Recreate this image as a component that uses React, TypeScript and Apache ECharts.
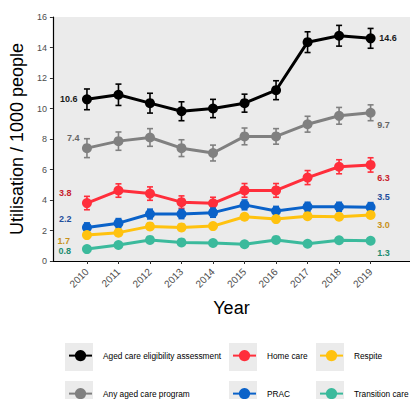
import React, { useEffect, useRef } from "react";
import * as echarts from "echarts";

const years = [2010, 2011, 2012, 2013, 2014, 2015, 2016, 2017, 2018, 2019];
const yTicks = [0, 2, 4, 6, 8, 10, 12, 14, 16];

const seriesNames = [
  "Aged care eligibility assessment",
  "Any aged care program",
  "Home care",
  "PRAC",
  "Respite",
  "Transition care",
];

const assessment = [10.6, 10.9, 10.35, 9.82, 10.0, 10.35, 11.2, 14.35, 14.77, 14.6];
const anyProgram = [7.4, 7.86, 8.1, 7.4, 7.08, 8.17, 8.17, 8.97, 9.52, 9.72];
const homeCare = [3.8, 4.62, 4.42, 3.86, 3.78, 4.63, 4.63, 5.47, 6.18, 6.3];
const prac = [2.2, 2.48, 3.08, 3.08, 3.17, 3.68, 3.28, 3.55, 3.55, 3.53];
const respite = [1.7, 1.86, 2.27, 2.2, 2.29, 2.9, 2.75, 2.94, 2.9, 3.02];
const transition = [0.78, 1.05, 1.38, 1.22, 1.18, 1.1, 1.38, 1.13, 1.36, 1.33];

const assessmentErr = [0.68, 0.7, 0.65, 0.62, 0.6, 0.59, 0.62, 0.68, 0.68, 0.65];
const anyProgramErr = [0.62, 0.6, 0.58, 0.55, 0.52, 0.55, 0.51, 0.52, 0.55, 0.52];
const homeCareErr = [0.44, 0.44, 0.44, 0.41, 0.4, 0.45, 0.45, 0.46, 0.46, 0.47];
const pracErr = [0.3, 0.3, 0.32, 0.3, 0.3, 0.32, 0.3, 0.3, 0.3, 0.3];
const respiteErr = [0.2, 0.2, 0.2, 0.2, 0.2, 0.2, 0.2, 0.2, 0.2, 0.2];
const transitionErr = [0.12, 0.12, 0.12, 0.12, 0.12, 0.12, 0.12, 0.12, 0.12, 0.12];

const values = [assessment, anyProgram, homeCare, prac, respite, transition];
const errors = [assessmentErr, anyProgramErr, homeCareErr, pracErr, respiteErr, transitionErr];

// styles
const lineColors = ["#000000", "#808080", "#FF2E3B", "#0A62C9", "#FFC20F", "#3BBA9C"];
const labelColors = ["#1A1A1A", "#666666", "#C8202C", "#1F4E9C", "#C8921A", "#1E8C70"];
// [dx (right edge), dy] for first label, [dx (left edge), dy] for last label
const firstLabelPos = [[-9.5, 0], [-7.5, -10.5], [-15.5, -10], [-15.5, -8], [-17, 6], [-16, 2]];
const lastLabelPos = [[8.7, 0], [6.7, 12], [6.7, 13], [6.7, -10], [6.7, 10], [6.7, 12]];
const legendCells = [
  [65, 343], [65, 381], [229, 343], [229, 381], [316, 343], [316, 381],
];

export default function App() {
  const ref = useRef<HTMLDivElement>(null);
  useEffect(() => {
    if (!ref.current) return;
    const chart = echarts.init(ref.current, undefined, { renderer: "svg" });
    const SYM = 10;
    const series: any[] = [];
    values.forEach((vals, si) => {
      const errs = errors[si];
      series.push({
        type: "custom",
        name: seriesNames[si] + " err",
        data: years.map((y, i) => [y, vals[i] - errs[i], vals[i] + errs[i]]),
        z: 2 + si * 2,
        silent: true,
        renderItem: (params: any, api: any) => {
          const x = api.value(0);
          const lo = api.coord([x, api.value(1)]);
          const hi = api.coord([x, api.value(2)]);
          const st = { stroke: lineColors[si], lineWidth: 1.6 };
          return {
            type: "group",
            children: [
              { type: "line", shape: { x1: lo[0], y1: lo[1], x2: hi[0], y2: hi[1] }, style: st },
              { type: "line", shape: { x1: lo[0] - 3, y1: lo[1], x2: lo[0] + 3, y2: lo[1] }, style: st },
              { type: "line", shape: { x1: hi[0] - 3, y1: hi[1], x2: hi[0] + 3, y2: hi[1] }, style: st },
            ],
          };
        },
      });
      const fp = firstLabelPos[si];
      const lp = lastLabelPos[si];
      series.push({
        type: "line",
        name: seriesNames[si],
        z: 3 + si * 2,
        symbol: "circle",
        symbolSize: SYM,
        color: lineColors[si],
        lineStyle: { width: 3, color: lineColors[si] },
        itemStyle: { color: lineColors[si] },
        data: years.map((y, i) => {
          const item: any = { value: [y, vals[i]] };
          if (i === 0 || i === years.length - 1) {
            const p = i === 0 ? fp : lp;
            item.label = {
              show: true,
              position: [SYM / 2 + p[0], SYM / 2 + p[1]],
              align: i === 0 ? "right" : "left",
              verticalAlign: "middle",
              formatter: (d: any) => d.value[1].toFixed(1),
              color: labelColors[si],
              fontSize: 9,
              fontWeight: "bold",
              fontFamily: "Liberation Sans, Arial, sans-serif",
            };
          }
          return item;
        }),
      });
    });

    const legends = seriesNames.map((n, i) => ({
      data: [n],
      left: legendCells[i][0] + 3,
      top: legendCells[i][1] + 14 - 7,
      padding: 0,
      itemWidth: 23,
      itemHeight: 14,
      selectedMode: false,
      textStyle: {
        fontSize: 8.3,
        color: "#000",
        fontFamily: "Liberation Sans, Arial, sans-serif",
        padding: [0, 0, 0, 6],
      },
    }));

    chart.setOption({
      animation: false,
      backgroundColor: "#ffffff",
      textStyle: { fontFamily: "Liberation Sans, Arial, sans-serif" },
      grid: {
        left: 50,
        top: 17,
        height: 244,
        width: 370,
        show: true,
        backgroundColor: "#EBEBEB",
        borderWidth: 0,
        containLabel: false,
      },
      legend: legends,
      graphic: legendCells.map((c) => ({
        type: "rect",
        shape: { x: c[0], y: c[1], width: 28, height: 28 },
        style: { fill: "#EBEBEB" },
        z: -1,
        silent: true,
      })),
      xAxis: {
        type: "value",
        min: 2008.92,
        max: 2020.25,
        name: "Year",
        nameLocation: "middle",
        nameGap: 38,
        nameTextStyle: { fontSize: 18, color: "#000" },
        axisLine: { show: true, onZero: false, lineStyle: { color: "#000", width: 1.2 } },
        axisTick: { show: true, length: 3, customValues: years, lineStyle: { color: "#333" } },
        axisLabel: {
          customValues: years,
          rotate: 45,
          fontSize: 10,
          color: "#4D4D4D",
          margin: 9,
          formatter: (v: number) => String(v),
        },
        splitLine: { show: false },
      },
      yAxis: {
        type: "value",
        min: 0,
        max: 16,
        interval: 2,
        name: "Utilisation / 1000 people",
        nameLocation: "middle",
        nameGap: 23,
        nameTextStyle: { fontSize: 18, color: "#000" },
        axisLine: { show: true, lineStyle: { color: "#000", width: 1.2 } },
        axisTick: { show: true, length: 3, lineStyle: { color: "#333" } },
        axisLabel: {
          fontSize: 9,
          color: "#4D4D4D",
          margin: 6,
          customValues: yTicks,
        },
        splitLine: { show: false },
      },
      series,
    });
    return () => chart.dispose();
  }, []);
  return (
    <div
      ref={ref}
      style={{ position: "absolute", left: 0, top: 0, width: 410, height: 399 }}
    />
  );
}
